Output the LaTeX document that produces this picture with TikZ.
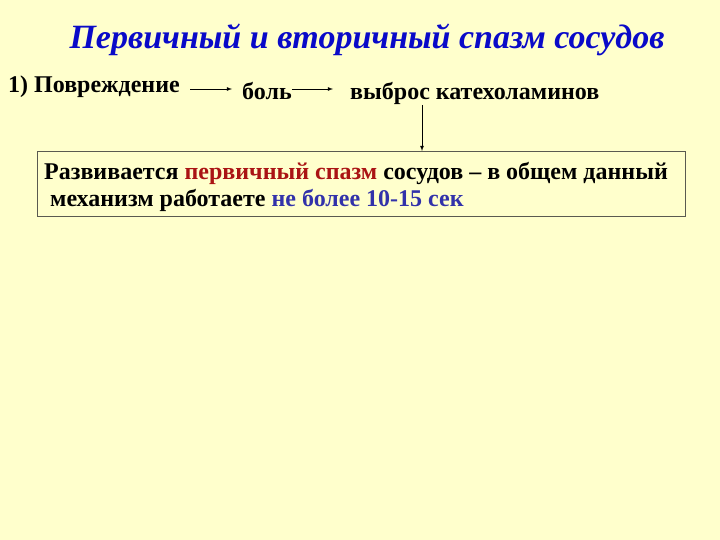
\documentclass[tikz,border=0pt]{standalone}
\usepackage{fontspec}
\setmainfont{Liberation Serif}
\definecolor{bg}{RGB}{255,255,204}
\definecolor{ttl}{RGB}{10,10,200}
\definecolor{redt}{RGB}{170,20,20}
\definecolor{bluet}{RGB}{50,50,170}
\definecolor{boxline}{RGB}{90,90,80}
\tikzset{
  lbl/.style={font=\bfseries\fontsize{24}{26}\selectfont, inner sep=0pt, anchor=base west},
  arr/.style={-latex, line width=0.8pt}
}
\begin{document}
\begin{tikzpicture}[x=1pt,y=-1pt]
\fill[bg] (0,0) rectangle (720,540);
\useasboundingbox (0,0) rectangle (720,540);
\node[font=\bfseries\itshape\fontsize{34}{36}\selectfont, text=ttl, inner sep=0pt, anchor=base] (title) at (367,49) {Первичный и вторичный спазм сосудов};
\node[lbl] (p) at (8,93) {1) Повреждение};
\node[lbl] (b) at (242,100) {боль};
\node[lbl] (v) at (350,100) {выброс катехоламинов};
\coordinate (a1s) at (190,89);
\coordinate (a1e) at (232,89);
\coordinate (a2e) at (333,89);
\draw[arr] (a1s) -- (a1e);
\draw[arr] (b.east |- a1s) -- (a2e);
\node[draw=boxline, line width=0.8pt, minimum width=648pt, minimum height=65pt, anchor=north west, inner sep=0pt] (box) at (37,151) {};
\draw[arr] (422,105) -- (422,151);
\node[lbl] (t1) at (44,180) {Развивается \textcolor{redt}{первичный спазм} сосудов – в общем данный};
\node[lbl] (t2) at (44,207) {\ механизм работаете \textcolor{bluet}{не более 10-15 сек}};
\end{tikzpicture}
\end{document}
